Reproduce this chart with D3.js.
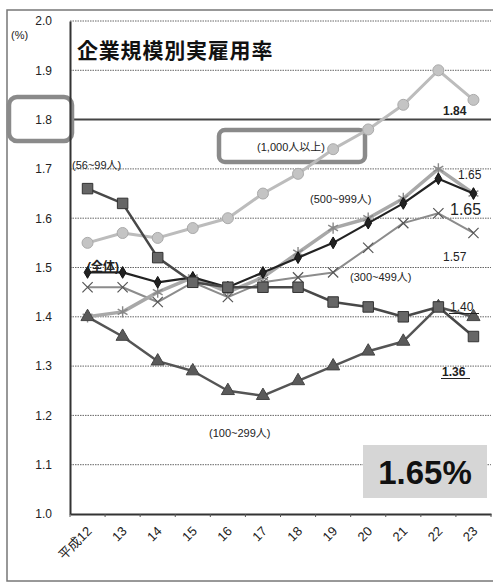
<!DOCTYPE html>
<html><head><meta charset="utf-8">
<script src="https://cdn.jsdelivr.net/npm/d3@7"></script>
<style>
html,body{margin:0;padding:0;background:#fff;}
svg{display:block;}
text{font-family:"Liberation Sans","Noto Sans CJK JP",Arial,sans-serif;}
</style></head>
<body>
<svg id="chart" width="493" height="586"></svg>
<script>
// Fiscal years (Heisei era)
const years = ["平成12","13","14","15","16","17","18","19","20","21","22","23"];
const yTicks = [1.0,1.1,1.2,1.3,1.4,1.5,1.6,1.7,1.8,1.9,2.0];

// Actual employment rate (%) by company size
const size1000 = [1.55,1.57,1.56,1.58,1.60,1.65,1.69,1.74,1.78,1.83,1.90,1.84];
const size500  = [1.40,1.41,1.45,1.48,1.45,1.48,1.53,1.58,1.60,1.64,1.70,1.65];
const size300  = [1.46,1.46,1.43,1.47,1.44,1.47,1.48,1.49,1.54,1.59,1.61,1.57];
const total    = [1.49,1.49,1.47,1.48,1.46,1.49,1.52,1.55,1.59,1.63,1.68,1.65];
const size100  = [1.40,1.36,1.31,1.29,1.25,1.24,1.27,1.30,1.33,1.35,1.42,1.40];
const size56   = [1.66,1.63,1.52,1.47,1.46,1.46,1.46,1.43,1.42,1.40,1.42,1.36];

const svg = d3.select("#chart");
const plotL = 70, plotR = 491, plotT = 21, plotB = 514;

const x = d3.scaleBand().domain(years).range([plotL, plotR]);
const y = d3.scaleLinear().domain([1.0, 2.0]).range([plotB, plotT]);
const cx = i => x(years[i]) + x.bandwidth() / 2;

// outer frame
svg.append("rect").attr("x",7).attr("y",10).attr("width",495).attr("height",571)
  .attr("fill","none").attr("stroke","#777").attr("stroke-width",1.5);

// gridlines
svg.append("g").selectAll("line").data(yTicks.filter(v => v > 1.0 && v !== 1.8)).join("line")
  .attr("x1",plotL).attr("x2",plotR).attr("y1",d=>y(d)).attr("y2",d=>y(d))
  .attr("stroke","#666").attr("stroke-width",1).attr("stroke-dasharray","1.5,1");
// legal employment rate line (1.8%)
svg.append("line").attr("x1",plotL).attr("x2",plotR).attr("y1",y(1.8)).attr("y2",y(1.8))
  .attr("stroke","#444").attr("stroke-width",2);

// highlight box around the 1.8 tick
svg.append("rect").attr("x",9).attr("y",97).attr("width",63).attr("height",44)
  .attr("rx",8).attr("fill","#fff").attr("stroke","#8a8a8a").attr("stroke-width",4.5);

// y axis
const yAxis = d3.axisLeft(y).tickValues(yTicks).tickFormat(d3.format(".1f")).tickSize(0).tickPadding(18);
const gy = svg.append("g").attr("transform",`translate(${plotL},0)`).call(yAxis);
gy.select(".domain").attr("stroke","#333").attr("stroke-width",2);
gy.selectAll("text").attr("font-size",12).attr("fill","#222");

// x axis
const xAxis = d3.axisBottom(x).tickSize(0).tickSizeOuter(0);
const gx = svg.append("g").attr("transform",`translate(0,${plotB})`).call(xAxis);
gx.select(".domain").attr("stroke","#333").attr("stroke-width",2);
gx.selectAll(".tick text").attr("font-size",13).attr("fill","#222")
  .attr("text-anchor","end").attr("dy",0).attr("y",0)
  .attr("transform","translate(5,18) rotate(-45)");
// small tick marks at band edges
svg.append("g").selectAll("line").data(years.concat(["end"])).join("line")
  .attr("x1",(d,i)=> plotL + i * x.step()).attr("x2",(d,i)=> plotL + i * x.step())
  .attr("y1",plotB).attr("y2",plotB+3).attr("stroke","#555").attr("stroke-width",1);

svg.append("text").attr("x",11).attr("y",39).attr("font-size",11).attr("fill","#222").text("(%)");

// title
svg.append("text").attr("x",77).attr("y",58).attr("font-size",21).attr("font-weight","bold")
  .attr("letter-spacing",0.8)
  .attr("fill","#111").style("font-family","'Noto Sans CJK JP',sans-serif").text("企業規模別実雇用率");

// box around the 1,000+ label
svg.append("rect").attr("x",219).attr("y",130).attr("width",146).attr("height",32)
  .attr("rx",6).attr("fill","#fff").attr("stroke","#8a8a8a").attr("stroke-width",4.5);
svg.append("text").attr("x",291).attr("y",151).attr("font-size",11).attr("text-anchor","middle")
  .attr("fill","#222").text("(1,000人以上)");

const line = d3.line().x((d,i)=>cx(i)).y(d=>y(d));

function series(vals, color, width, symbol, symSize, fill, stroke, sw) {
  svg.append("path").datum(vals).attr("d",line).attr("fill","none")
    .attr("stroke",color).attr("stroke-width",width).attr("stroke-linejoin","round");
  svg.append("g").selectAll("path").data(vals).join("path")
    .attr("transform",(d,i)=>`translate(${cx(i)},${y(d)})`)
    .attr("d",d3.symbol().type(symbol).size(symSize))
    .attr("fill",fill).attr("stroke",stroke).attr("stroke-width",sw);
}

series(size1000,"#bcbcbc",3,d3.symbolCircle,95,"#c4c4c4","#aaa",1);
series(size300,"#8c8c8c",2,d3.symbolTimes,70,"none","#555",1.2);
series(size500,"#a8a8a8",3.5,d3.symbolAsterisk,90,"none","#888",1.4);
series(total,"#222",2.2,d3.symbolDiamond,40,"#222","#111",1);
series(size100,"#555",2.5,d3.symbolTriangle,75,"#5a5a5a","#444",1);
series(size56,"#484848",2.5,d3.symbolSquare,110,"#666","#333",1);

// series labels
const lab = (tx,ty,t,size,opts={}) => svg.append("text").attr("x",tx).attr("y",ty)
  .attr("font-size",size).attr("fill",opts.fill||"#222").attr("font-weight",opts.bold?"bold":"normal")
  .attr("text-anchor",opts.anchor||"start").text(t);
lab(72,169,"(56~99人)",11);
lab(87,271,"(全体)",12,{bold:true});
lab(310,203,"(500~999人)",11);
lab(350,281,"(300~499人)",11);
lab(209,437,"(100~299人)",11);

// end-year value labels
lab(443,115,"1.84",12,{bold:true});
lab(458,179,"1.65",12);
lab(450,215,"1.65",16);
lab(443,261,"1.57",12);
lab(450,311,"1.40",12);
lab(442,376,"1.36",12,{bold:true});
svg.append("line").attr("x1",449).attr("x2",479).attr("y1",313.5).attr("y2",313.5).attr("stroke","#222").attr("stroke-width",1);
svg.append("line").attr("x1",441).attr("x2",470).attr("y1",378.5).attr("y2",378.5).attr("stroke","#222").attr("stroke-width",1);

// overall rate callout
svg.append("rect").attr("x",363).attr("y",445).attr("width",124).attr("height",53)
  .attr("fill","#d6d6d6");
svg.append("text").attr("x",425).attr("y",484).attr("font-size",33).attr("font-weight","bold")
  .attr("text-anchor","middle").attr("fill","#111").text("1.65%");
</script>
</body></html>
